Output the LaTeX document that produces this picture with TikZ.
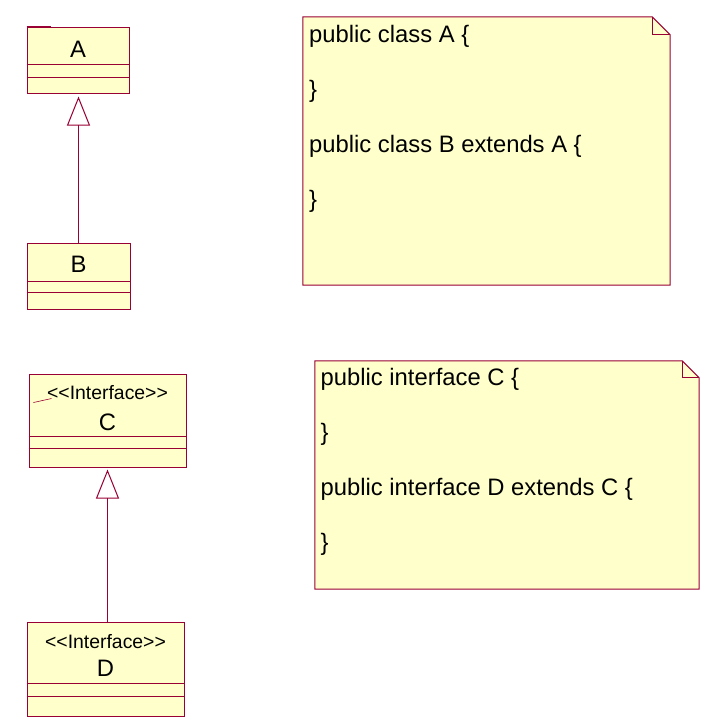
\documentclass[tikz,border=0pt]{standalone}
\usepackage{fontspec}
\setmainfont{Liberation Sans}
\usetikzlibrary{arrows.meta}
\definecolor{umlborder}{RGB}{153,0,51}
\definecolor{umlfill}{RGB}{255,255,204}
\tikzset{
  classbox/.style={draw=umlborder, fill=umlfill, line width=1pt, inner sep=0pt, rectangle},
  sepline/.style={draw=umlborder, line width=1pt},
  namelabel/.style={font=\fontsize{23.8}{28}\selectfont, inner sep=0pt, text=black},
  stereolabel/.style={font=\fontsize{19.4}{23}\selectfont, inner sep=0pt, text=black},
  codeline/.style={font=\fontsize{23.8}{28}\selectfont, inner sep=0pt, anchor=west, text=black},
  notebox/.style={inner sep=0pt, rectangle},
  noteshape/.style={draw=umlborder, fill=umlfill, line width=1pt, line join=miter},
  generalization/.style={draw=umlborder, line width=1pt, -{Triangle[open, length=29pt, width=23pt]}},
}
\newcommand{\stereo}{{<}{<}Interface{>}{>}}
\begin{document}
\begin{tikzpicture}[x=1pt,y=-1pt]
\useasboundingbox (0,0) rectangle (722,725);

% ---- class A ----
\node[classbox, minimum width=102pt, minimum height=65pt] (A) at (78,60.5) {};
\node[namelabel] (Aname) at (78,49) {A};
\draw[sepline] (A.west |- 0,65) -- (A.east |- 0,65);
\draw[sepline] (A.west |- 0,77) -- (A.east |- 0,77);
\draw[sepline] ([yshift=0.8pt]A.north west) -- ++(24,0);

% ---- class B ----
\node[classbox, minimum width=103pt, minimum height=66pt] (B) at (78.5,276) {};
\node[namelabel] (Bname) at (78.5,264) {B};
\draw[sepline] (B.west |- 0,281) -- (B.east |- 0,281);
\draw[sepline] (B.west |- 0,292) -- (B.east |- 0,292);

\draw[generalization, shorten >=3pt] (B.north) -- (B.north |- A.south);

% ---- interface C ----
\node[classbox, minimum width=157pt, minimum height=93pt] (C) at (107.5,420.5) {};
\node[stereolabel] (Cst) at (107.5,393) {\stereo};
\node[namelabel] (Cname) at (107.5,422) {C};
\draw[sepline] (C.west |- 0,436) -- (C.east |- 0,436);
\draw[sepline] (C.west |- 0,448) -- (C.east |- 0,448);
\draw[sepline, line width=0.6pt] ([shift={(5,29)}]C.north west) -- ([shift={(23,25)}]C.north west);

% ---- interface D ----
\node[classbox, minimum width=157pt, minimum height=94pt] (D) at (105.5,669) {};
\node[stereolabel] (Dst) at (105.5,642) {\stereo};
\node[namelabel] (Dname) at (105.5,668) {D};
\draw[sepline] (D.west |- 0,683) -- (D.east |- 0,683);
\draw[sepline] (D.west |- 0,696) -- (D.east |- 0,696);

\draw[generalization, shorten >=2pt] (D.north -| C.south) -- (C.south);

% ---- note 1 ----
\node[notebox, minimum width=367pt, minimum height=268pt] (N1) at (486.5,151) {};
\draw[noteshape] (N1.north west) -- ([xshift=-18pt]N1.north east) -- ([yshift=-18pt]N1.north east) -- (N1.south east) -- (N1.south west) -- cycle;
\draw[noteshape, fill=none] ([xshift=-18pt]N1.north east) -- ([xshift=-18pt,yshift=-18pt]N1.north east) -- ([yshift=-18pt]N1.north east);
\node[codeline] (n1a) at (309,36) {public class A \{};
\node[codeline] (n1b) at (309,91) {\}};
\node[codeline] (n1c) at (309,146) {public class B extends A \{};
\node[codeline] (n1d) at (309,201) {\}};

% ---- note 2 ----
\node[notebox, minimum width=384pt, minimum height=228pt] (N2) at (507,475) {};
\draw[noteshape] (N2.north west) -- ([xshift=-17pt]N2.north east) -- ([yshift=-17pt]N2.north east) -- (N2.south east) -- (N2.south west) -- cycle;
\draw[noteshape, fill=none] ([xshift=-17pt]N2.north east) -- ([xshift=-17pt,yshift=-17pt]N2.north east) -- ([yshift=-17pt]N2.north east);
\node[codeline] (n2a) at (320.5,379) {public interface C \{};
\node[codeline] (n2b) at (320.5,434) {\}};
\node[codeline] (n2c) at (320.5,489) {public interface D extends C \{};
\node[codeline] (n2d) at (320.5,544) {\}};
\end{tikzpicture}
\end{document}
